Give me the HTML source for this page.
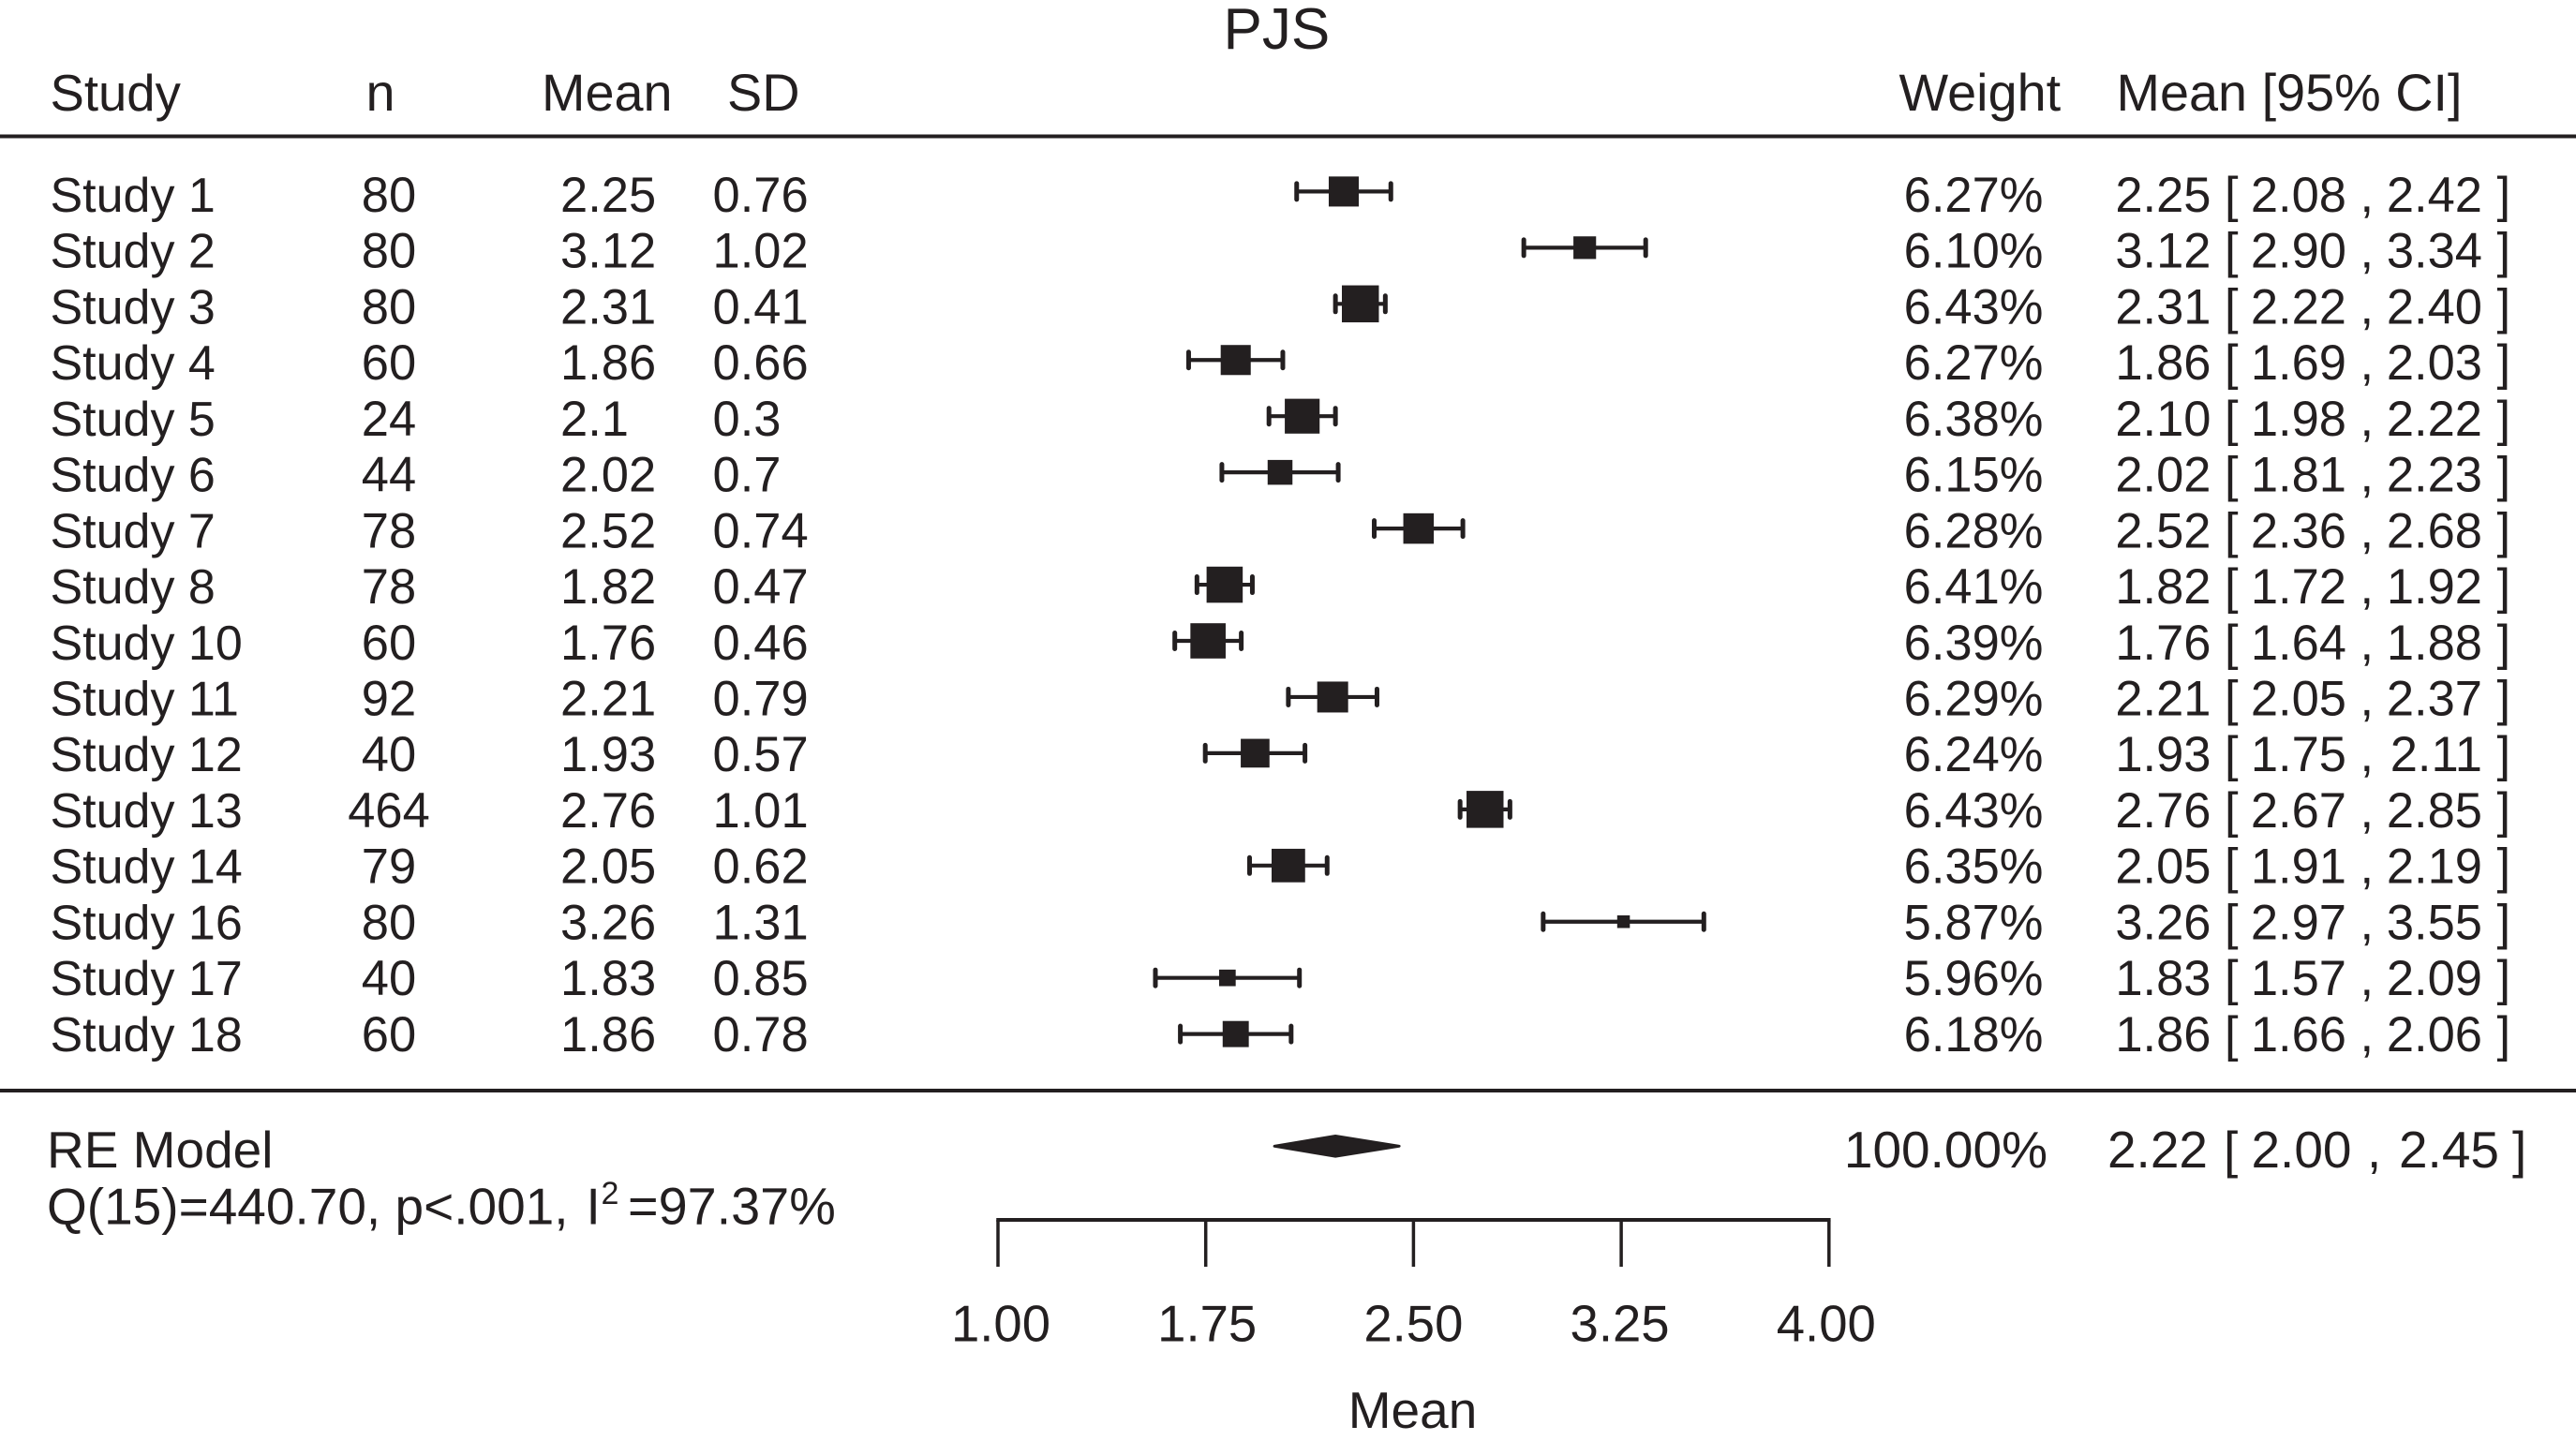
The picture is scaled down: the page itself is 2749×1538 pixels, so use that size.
<!DOCTYPE html>
<html lang="en">
<head>
<meta charset="utf-8">
<title>PJS forest plot</title>
<style>
html,body{margin:0;padding:0;background:#fff;}
body{width:2749px;height:1538px;overflow:hidden;}
svg{display:block;}
text{font-family:"Liberation Sans",Arial,sans-serif;fill:#231f20;}
</style>
</head>
<body>
<svg id="chart" xmlns="http://www.w3.org/2000/svg" width="2749" height="1538" viewBox="0 0 2749 1538">
  <rect x="0" y="0" width="2749" height="1538" fill="#ffffff"/>
  <text x="1305.5" y="52" font-size="62">PJS</text>
  <g font-size="55.8">
    <text x="53.5" y="118" font-size="54.5">Study</text>
    <text x="406" y="118" text-anchor="middle">n</text>
    <text x="578" y="118">Mean</text>
    <text x="776" y="118">SD</text>
    <text x="2026.5" y="118">Weight</text>
    <text x="2258.5" y="118">Mean [95% CI]</text>
  </g>
  <rect x="0" y="143.5" width="2749" height="4" fill="#231f20"/>
  <rect x="0" y="1162" width="2749" height="4" fill="#231f20"/>
  <g id="rows"></g>
  <g id="summary"></g>
  <g id="axis"></g>
</svg>
<script>
const studies = ['Study 1','Study 2','Study 3','Study 4','Study 5','Study 6','Study 7','Study 8','Study 10','Study 11','Study 12','Study 13','Study 14','Study 16','Study 17','Study 18'];
const sampleSizes = [80,80,80,60,24,44,78,78,60,92,40,464,79,80,40,60];
const means = [2.25,3.12,2.31,1.86,2.1,2.02,2.52,1.82,1.76,2.21,1.93,2.76,2.05,3.26,1.83,1.86];
const sds = [0.76,1.02,0.41,0.66,0.3,0.7,0.74,0.47,0.46,0.79,0.57,1.01,0.62,1.31,0.85,0.78];
const weights = [6.27,6.10,6.43,6.27,6.38,6.15,6.28,6.41,6.39,6.29,6.24,6.43,6.35,5.87,5.96,6.18];
const ciLower = [2.08,2.90,2.22,1.69,1.98,1.81,2.36,1.72,1.64,2.05,1.75,2.67,1.91,2.97,1.57,1.66];
const ciUpper = [2.42,3.34,2.40,2.03,2.22,2.23,2.68,1.92,1.88,2.37,2.11,2.85,2.19,3.55,2.09,2.06];
const summaryMean = 2.22;
const summaryLower = 2.00;
const summaryUpper = 2.45;
const axisTicks = [1.00,1.75,2.50,3.25,4.00];
const axisMin = 1;
const axisMax = 4;

const NS = 'http://www.w3.org/2000/svg';
const INK = '#231f20';
function xScale(v){ return 1065 + (v - axisMin) / (axisMax - axisMin) * 886.8; }
function markX(v){ return xScale(v) - 0.5; }
function markY(i){ return 204.4 + i * 59.95; }
function textY(i){ return 226 + i * 59.72; }
function squareSize(w){ return 13.5 + (w - 5.87) * 46.4; }
function make(tag, attrs, parent, content){
  const el = document.createElementNS(NS, tag);
  for (const k in attrs) el.setAttribute(k, attrs[k]);
  if (content !== undefined) el.textContent = content;
  parent.appendChild(el);
  return el;
}

const rowsLayer = document.getElementById('rows');
studies.forEach(function(name, i){
  const row = make('g', {'font-size': 52.5}, rowsLayer);
  
  
  const ty = textY(i);
  const my = markY(i);

  const label = make('text', {x: 53.5, y: ty, 'font-size': 52}, row, name);
  
  

  const n = make('text', {x: 415, y: ty, 'text-anchor': 'middle'}, row, String(sampleSizes[i]));
  
  

  const mean = make('text', {x: 598, y: ty}, row, String(means[i]));
  
  

  const sd = make('text', {x: 760.5, y: ty}, row, String(sds[i]));
  
  

  const weight = make('text', {x: 2180.5, y: ty, 'text-anchor': 'end'}, row, weights[i].toFixed(2) + '%');
  
  

  const ci = make('g', {}, row);
  
  
  make('text', {x: 2359.5, y: ty, 'text-anchor': 'end'}, ci, means[i].toFixed(2));
  make('text', {x: 2374, y: ty}, ci, '[');
  make('text', {x: 2504, y: ty, 'text-anchor': 'end'}, ci, ciLower[i].toFixed(2));
  make('text', {x: 2518.5, y: ty}, ci, ',');
  make('text', {x: 2649, y: ty, 'text-anchor': 'end'}, ci, ciUpper[i].toFixed(2));
  make('text', {x: 2664.5, y: ty}, ci, ']');

  const x0 = markX(ciLower[i]);
  const x1 = markX(ciUpper[i]);
  const whisker = make('line', {x1: x0, x2: x1, y1: my, y2: my, stroke: INK, 'stroke-width': 4.2}, row);
  
  

  const capLow = make('line', {x1: x0, x2: x0, y1: my - 8.5, y2: my + 8.5, stroke: INK, 'stroke-width': 5, 'stroke-linecap': 'round'}, row);
  
  

  const capHigh = make('line', {x1: x1, x2: x1, y1: my - 8.5, y2: my + 8.5, stroke: INK, 'stroke-width': 5, 'stroke-linecap': 'round'}, row);
  
  

  const s = squareSize(weights[i]);
  const square = make('rect', {x: markX(means[i]) - s / 2, y: my - s / 2, width: s, height: s, fill: INK}, row);
  
  
});

const summaryLayer = document.getElementById('summary');
const summaryText = make('g', {'font-size': 55}, summaryLayer);



const reLabel = make('text', {x: 50, y: 1246}, summaryText, 'RE Model');



const hetStat = make('text', {x: 50, y: 1306.7}, summaryText, 'Q(15)=440.70, p<.001,');



const hetI = make('text', {x: 625.5, y: 1306.7}, summaryText, 'I');



const hetSup = make('text', {x: 641.5, y: 1285, 'font-size': 34}, summaryText, '2');



const hetVal = make('text', {x: 670, y: 1306.7, 'font-size': 55.8}, summaryText, '=97.37%');



const sumWeight = make('text', {x: 2185, y: 1246, 'text-anchor': 'end'}, summaryText, '100.00%');



const sumCi = make('g', {}, summaryText);


make('text', {x: 2356, y: 1246, 'text-anchor': 'end'}, sumCi, summaryMean.toFixed(2));
make('text', {x: 2373, y: 1246}, sumCi, '[');
make('text', {x: 2509.5, y: 1246, 'text-anchor': 'end'}, sumCi, summaryLower.toFixed(2));
make('text', {x: 2526, y: 1246}, sumCi, ',');
make('text', {x: 2667, y: 1246, 'text-anchor': 'end'}, sumCi, summaryUpper.toFixed(2));
make('text', {x: 2681, y: 1246}, sumCi, ']');

const diamond = make('polygon', {
  points: [
    markX(summaryLower) + ',1223.3',
    markX(summaryMean) + ',1212.5',
    markX(summaryUpper) + ',1223.3',
    markX(summaryMean) + ',1234.1'
  ].join(' '),
  fill: INK,
  stroke: INK,
  'stroke-width': 3,
  'stroke-linejoin': 'round'
}, summaryLayer);



const axisLayer = document.getElementById('axis');
const axisLine = make('line', {x1: xScale(axisMin) - 1.75, x2: xScale(axisMax) + 1.75, y1: 1302, y2: 1302, stroke: INK, 'stroke-width': 4}, axisLayer);



axisTicks.forEach(function(t){
  const tick = make('line', {x1: xScale(t), x2: xScale(t), y1: 1302, y2: 1352, stroke: INK, 'stroke-width': 3.5}, axisLayer);
  
  

  const tickLabel = make('text', {x: xScale(t) - 2 * (t - 2.5), y: 1431.7, 'text-anchor': 'middle', 'font-size': 54.5}, axisLayer, t.toFixed(2));
  
  
});

const axisTitle = make('text', {x: 1507.5, y: 1524, 'text-anchor': 'middle', 'font-size': 55}, axisLayer, 'Mean');


</script>
</body>
</html>
